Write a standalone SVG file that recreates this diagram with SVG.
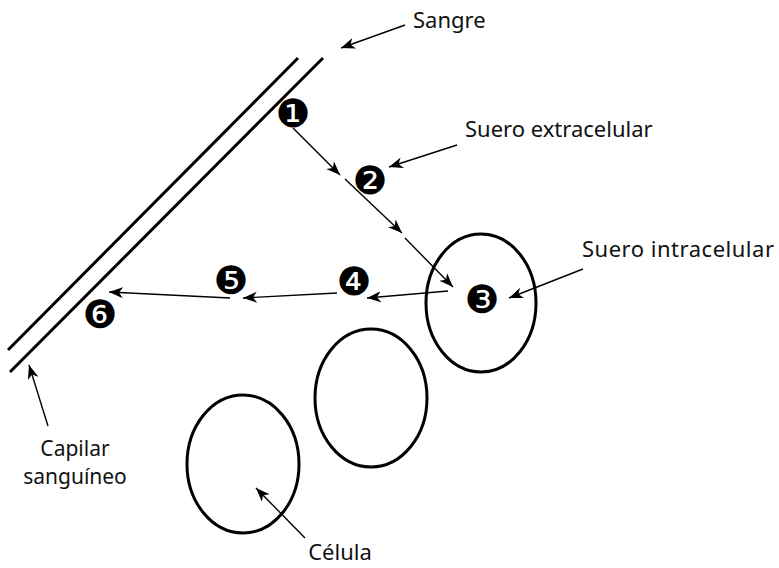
<svg xmlns="http://www.w3.org/2000/svg" width="779" height="568" viewBox="0 0 779 568">
<defs>
<marker id="ah" markerUnits="userSpaceOnUse" markerWidth="16" markerHeight="12" refX="14" refY="6" orient="auto" viewBox="0 0 16 12">
<path d="M0,0.5 L14,6 L0,11.5 L4,6 Z" fill="#000"/>
</marker>
<style>
.lbl{font-family:"Noto Sans","DejaVu Sans",sans-serif;font-size:22px;fill:#111}
.sm{font-size:21px}
.num{font-family:"DejaVu Sans",sans-serif;font-size:39px;fill:#000}
.wall{stroke:#000;stroke-width:3;fill:none}
.cell{stroke:#000;stroke-width:3;fill:none}
.arr{stroke:#000;stroke-width:1.4;fill:none;marker-end:url(#ah)}
</style>
</defs>
<rect width="779" height="568" fill="#fff"/>
<g id="capilar">
<line class="wall" x1="8" y1="350" x2="298" y2="58"/>
<line class="wall" x1="10" y1="372" x2="323" y2="58"/>
</g>
<g id="celula1"><ellipse class="cell" cx="481" cy="303" rx="55" ry="69"/></g>
<g id="celula2"><ellipse class="cell" cx="371" cy="398" rx="56" ry="69"/></g>
<g id="celula3"><ellipse class="cell" cx="243" cy="464" rx="56" ry="69"/></g>
<g id="n1"><text class="num" x="293" y="113" text-anchor="middle" dominant-baseline="central">❶</text></g>
<g id="n2"><text class="num" x="370" y="180" text-anchor="middle" dominant-baseline="central">❷</text></g>
<g id="n3"><text class="num" x="482" y="299" text-anchor="middle" dominant-baseline="central">❸</text></g>
<g id="n4"><text class="num" x="354" y="281" text-anchor="middle" dominant-baseline="central">❹</text></g>
<g id="n5"><text class="num" x="231" y="280" text-anchor="middle" dominant-baseline="central">❺</text></g>
<g id="n6"><text class="num" x="100" y="314" text-anchor="middle" dominant-baseline="central">❻</text></g>
<g id="labels">
<text class="lbl" x="413" y="28">Sangre</text>
<text class="lbl" x="465" y="137">Suero extracelular</text>
<text class="lbl" x="582" y="257" textLength="192">Suero intracelular</text>
<text class="lbl sm" x="75" y="456" text-anchor="middle">Capilar</text>
<text class="lbl sm" x="75" y="484" text-anchor="middle">sanguíneo</text>
<text class="lbl" x="340" y="560" text-anchor="middle">Célula</text>
</g>
<g id="connectors">
<line class="arr" x1="293" y1="128" x2="340" y2="175"/>
<line class="arr" x1="345" y1="179" x2="402" y2="233"/>
<line class="arr" x1="405" y1="238" x2="453" y2="287"/>
<line class="arr" x1="448" y1="291" x2="367" y2="298"/>
<line class="arr" x1="337" y1="293" x2="243" y2="298"/>
<line class="arr" x1="230" y1="298" x2="109" y2="292"/>
<line class="arr" x1="405" y1="25" x2="341" y2="48"/>
<line class="arr" x1="457" y1="145" x2="389" y2="167"/>
<line class="arr" x1="583" y1="269" x2="509" y2="298"/>
<line class="arr" x1="48" y1="426" x2="29" y2="365"/>
<line class="arr" x1="305" y1="538" x2="256" y2="488"/>
</g>
</svg>
